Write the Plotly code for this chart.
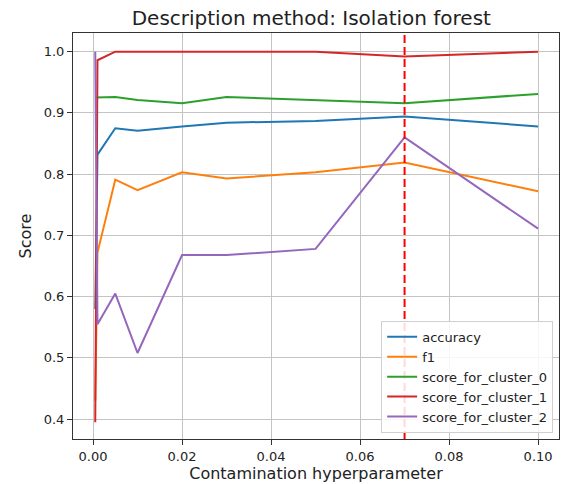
import plotly.graph_objects as go

contamination = [0.0005, 0.001, 0.005, 0.01, 0.02, 0.03, 0.05, 0.07, 0.1]
accuracy = [0.58, 0.832, 0.875, 0.871, 0.878, 0.884, 0.887, 0.894, 0.878]
f1 = [0.43, 0.672, 0.791, 0.774, 0.803, 0.793, 0.803, 0.819, 0.772]
score_for_cluster_0 = [0.925, 0.925, 0.926, 0.921, 0.916, 0.926, 0.921, 0.916, 0.931]
score_for_cluster_1 = [0.395, 0.986, 1.0, 1.0, 1.0, 1.0, 1.0, 0.992, 1.0]
score_for_cluster_2 = [1.0, 0.555, 0.605, 0.508, 0.668, 0.668, 0.678, 0.860, 0.711]
best_contamination = 0.07

series = [
    ("accuracy", accuracy, "#1f77b4"),
    ("f1", f1, "#ff7f0e"),
    ("score_for_cluster_0", score_for_cluster_0, "#2ca02c"),
    ("score_for_cluster_1", score_for_cluster_1, "#d62728"),
    ("score_for_cluster_2", score_for_cluster_2, "#9467bd"),
]

FONT = "DejaVu Sans"
fig = go.Figure()
for name, vals, color in series:
    fig.add_trace(go.Scatter(x=contamination, y=vals, mode="lines", name=name,
                             line=dict(color=color, width=2)))

fig.add_vline(x=best_contamination, line=dict(color="#ff0000", width=2, dash="8px,4px"))

axis_common = dict(showgrid=True, gridcolor="#c4c4c4", gridwidth=1,
                   showline=True, linecolor="#333333", linewidth=1, mirror=True,
                   ticks="outside", ticklen=5, tickcolor="#333333", zeroline=False,
                   tickfont=dict(family=FONT, size=13, color="#222222"))

fig.update_layout(
    width=565, height=484,
    margin=dict(l=73, r=6, t=33, b=45),
    paper_bgcolor="white", plot_bgcolor="white",
    title=dict(text="Description method: Isolation forest", x=0.551, xanchor="center",
               y=0.963, yanchor="middle",
               font=dict(family=FONT, size=20, color="#222222")),
    xaxis=dict(range=[-0.0045, 0.1047], tickvals=[0, 0.02, 0.04, 0.06, 0.08, 0.1],
               ticktext=["0.00", "0.02", "0.04", "0.06", "0.08", "0.10"],
               title=dict(text="Contamination hyperparameter", standoff=2,
                          font=dict(family=FONT, size=16, color="#222222")),
               **axis_common),
    yaxis=dict(range=[0.3676, 1.0305], tickvals=[0.4, 0.5, 0.6, 0.7, 0.8, 0.9, 1.0],
               ticktext=["0.4", "0.5", "0.6", "0.7", "0.8", "0.9", "1.0"],
               title=dict(text="Score", standoff=8,
                          font=dict(family=FONT, size=16, color="#222222")),
               **axis_common),
    legend=dict(x=0.988, xanchor="right", y=0.015, yanchor="bottom",
                bgcolor="rgba(255,255,255,0.85)", bordercolor="#d0d0d0", borderwidth=1,
                font=dict(family=FONT, size=13, color="#222222"),
                itemwidth=30, tracegroupgap=0),
    showlegend=True,
)

fig.write_html("out.html")
